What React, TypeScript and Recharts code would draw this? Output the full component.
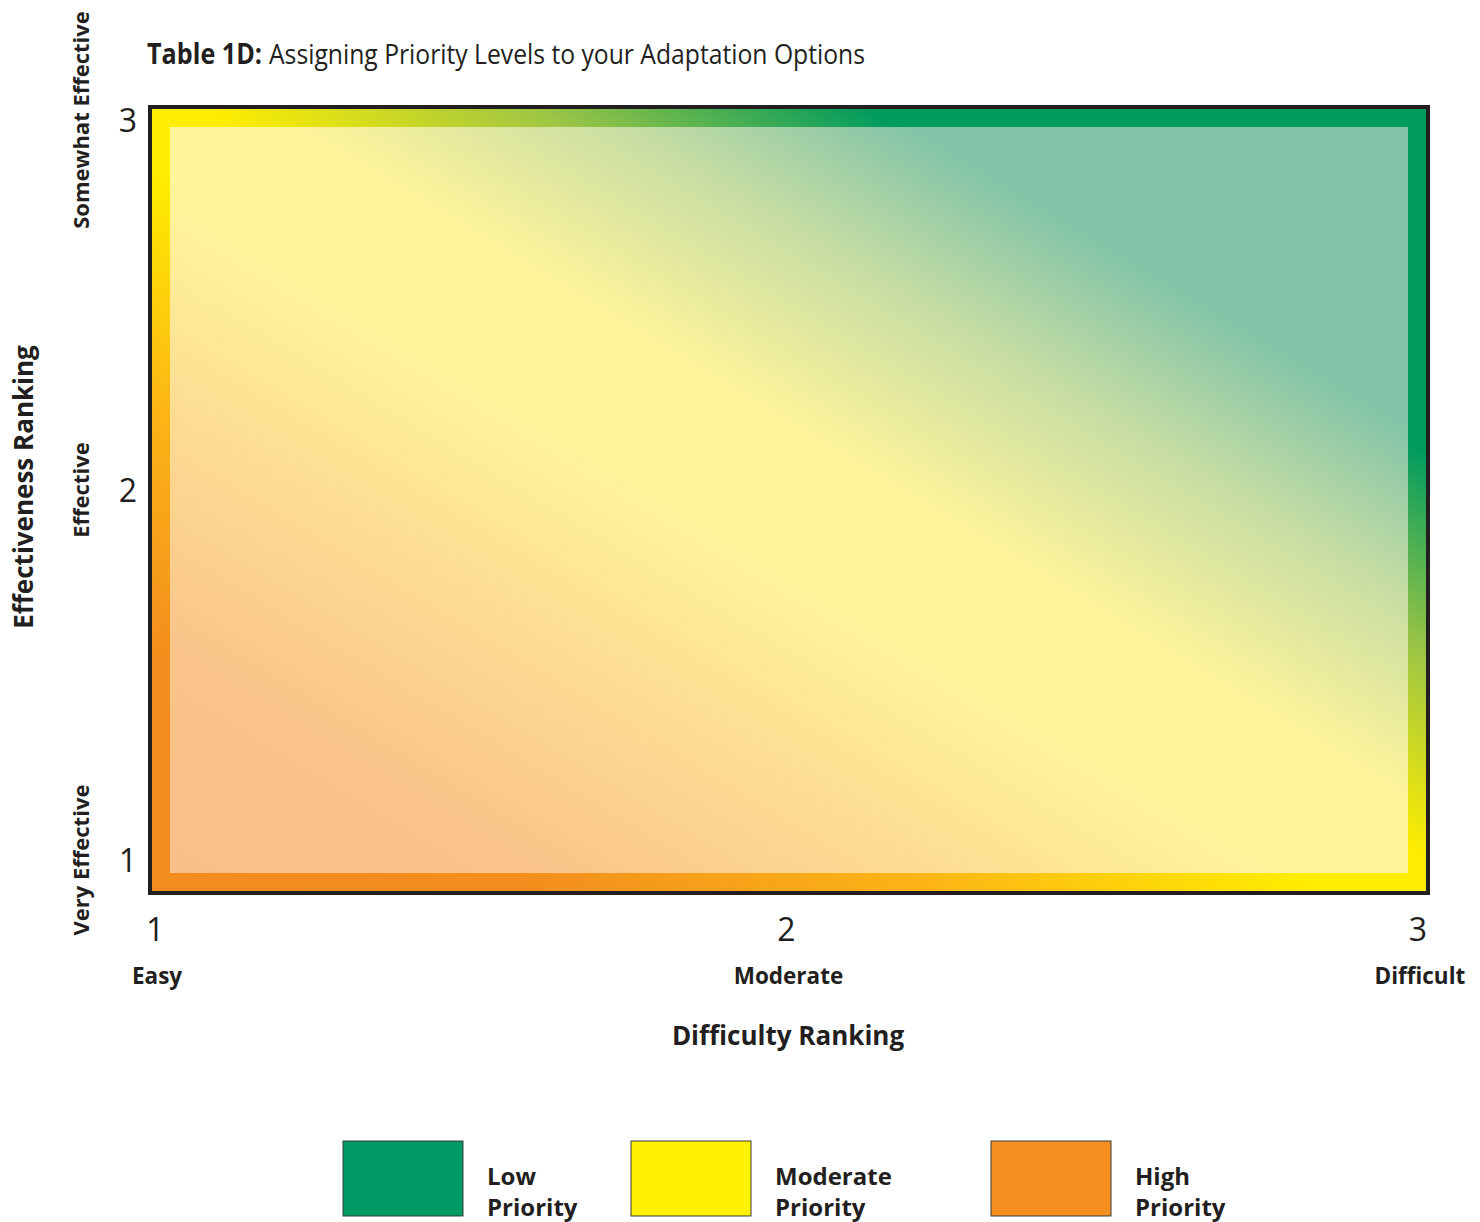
import React from 'react';
import { ComposedChart, XAxis, YAxis, ReferenceArea, Label } from 'recharts';

// axis categories
const difficultyLevels = [1, 2, 3];
const difficultyNames = ['Easy', 'Moderate', 'Difficult'];
const effectivenessLevels = [1, 2, 3];
const effectivenessNames = ['Very Effective', 'Effective', 'Somewhat Effective'];

// the printed frame runs a little past the 1..3 ticks
const difficultyDomain = [0.992, 3.016];
const effectivenessDomain = [0.911, 3.035];

// legend
const priorityNames = ['Low', 'Moderate', 'High'];
const priorityColors = ['#009B64', '#FFF100', '#F58F20'];
const legendLeft = [343, 631, 991];

const ink = '#231F20';
const font = "'Open Sans', sans-serif";

const rows = difficultyLevels.map((d, i) => ({ difficulty: d, effectiveness: effectivenessLevels[i] }));

function DifficultyTick(props: any) {
    const { x, y, payload } = props;
    const i = difficultyLevels.indexOf(payload.value);
    return (
        <g fontFamily={font} fill={ink}>
            <text x={x} y={y + 48} textAnchor="middle" fontSize={32}>{payload.value}</text>
            <text x={x + 2} y={y + 91} textAnchor="middle" fontSize={22.5} fontWeight={700}>{difficultyNames[i]}</text>
        </g>
    );
}

function EffectivenessTick(props: any) {
    const { x, y, payload } = props;
    const i = effectivenessLevels.indexOf(payload.value);
    const lx = x - 57;
    return (
        <g fontFamily={font} fill={ink}>
            <text x={x} y={y + 12} textAnchor="end" fontSize={32}>{payload.value}</text>
            <text
                x={lx}
                y={y}
                transform={`rotate(-90, ${lx}, ${y})`}
                textAnchor="middle"
                dominantBaseline="central"
                fontSize={22}
                fontWeight={700}
            >
                {effectivenessNames[i]}
            </text>
        </g>
    );
}

// frame: black outline, coloured ring, pale gradient inside
function PriorityFrame(props: any) {
    const { x, y, width, height } = props;
    const inset = 20;
    return (
        <g>
            <rect x={x} y={y} width={width} height={height} fill="url(#ringFill)" stroke={ink} strokeWidth={4} />
            <rect x={x + inset} y={y + inset} width={width - inset * 2} height={height - inset * 2} fill="url(#innerFill)" />
        </g>
    );
}

export default function App() {
    return (
        <div style={{ position: 'absolute', left: 0, top: 0, width: 1480, height: 1222, background: '#fff' }}>
            <ComposedChart
                width={1480}
                height={1222}
                data={rows}
                margin={{ top: 107, right: 52, bottom: 169, left: 0 }}
            >
                <XAxis
                    dataKey="difficulty"
                    type="number"
                    domain={difficultyDomain}
                    ticks={difficultyLevels}
                    tick={<DifficultyTick />}
                    tickLine={false}
                    axisLine={false}
                    tickSize={0}
                    tickMargin={0}
                    height={160}
                >
                    <Label
                        content={({ viewBox }: any) => (
                            <text
                                x={viewBox.x + viewBox.width / 2 - 1}
                                y={viewBox.y + 152}
                                textAnchor="middle"
                                fontFamily={font}
                                fontSize={26}
                                fontWeight={700}
                                fill={ink}
                            >
                                Difficulty Ranking
                            </text>
                        )}
                    />
                </XAxis>
                <YAxis
                    dataKey="effectiveness"
                    type="number"
                    domain={effectivenessDomain}
                    ticks={effectivenessLevels}
                    tick={<EffectivenessTick />}
                    tickLine={false}
                    axisLine={false}
                    tickSize={0}
                    tickMargin={13}
                    width={150}
                >
                    <Label
                        content={({ viewBox }: any) => {
                            const cx = 23;
                            const cy = viewBox.y + viewBox.height / 2 - 13;
                            return (
                                <text
                                    x={cx}
                                    y={cy}
                                    transform={`rotate(-90, ${cx}, ${cy})`}
                                    textAnchor="middle"
                                    dominantBaseline="central"
                                    fontFamily={font}
                                    fontSize={26}
                                    fontWeight={700}
                                    fill={ink}
                                >
                                    Effectiveness Ranking
                                </text>
                            );
                        }}
                    />
                </YAxis>
                <ReferenceArea
                    x1={difficultyDomain[0]}
                    x2={difficultyDomain[1]}
                    y1={effectivenessDomain[0]}
                    y2={effectivenessDomain[1]}
                    ifOverflow="visible"
                    shape={<PriorityFrame />}
                />
            </ComposedChart>

            {/* title, legend and gradient defs */}
            <svg
                width={1480}
                height={1222}
                style={{ position: 'absolute', left: 0, top: 0, pointerEvents: 'none' }}
            >
                <defs>
                    <linearGradient id="ringFill" x1="0" y1="1" x2="1" y2="0">
                        <stop offset="0%" stopColor="#F28C1E" />
                        <stop offset="15%" stopColor="#F38D1E" />
                        <stop offset="31%" stopColor="#FCB515" />
                        <stop offset="46%" stopColor="#FFED00" />
                        <stop offset="52%" stopColor="#FFED00" />
                        <stop offset="65%" stopColor="#9DC545" />
                        <stop offset="78%" stopColor="#009B5F" />
                        <stop offset="100%" stopColor="#009B5F" />
                    </linearGradient>
                    <linearGradient id="innerFill" x1="0" y1="1" x2="1" y2="0">
                        <stop offset="0%" stopColor="#F9BF89" />
                        <stop offset="15%" stopColor="#FAC48A" />
                        <stop offset="30%" stopColor="#FDDB92" />
                        <stop offset="45%" stopColor="#FEF49A" />
                        <stop offset="55%" stopColor="#FEF49A" />
                        <stop offset="68%" stopColor="#C9DEA3" />
                        <stop offset="80%" stopColor="#82C4A8" />
                        <stop offset="100%" stopColor="#82C4A8" />
                    </linearGradient>
                </defs>
                <g fontFamily={font} fill={ink}>
                    <text x={147} y={64} fontSize={28} fontWeight={700} textLength={115} lengthAdjust="spacingAndGlyphs">
                        Table 1D:
                    </text>
                    <text x={269} y={64} fontSize={28} textLength={596} lengthAdjust="spacingAndGlyphs">
                        Assigning Priority Levels to your Adaptation Options
                    </text>
                </g>
                {priorityNames.map((name, i) => (
                    <g key={name} fontFamily={font} fill={ink} fontWeight={700} fontSize={24}>
                        <rect
                            x={legendLeft[i]}
                            y={1141}
                            width={120}
                            height={75}
                            fill={priorityColors[i]}
                            stroke="#3a3a3a"
                            strokeWidth={1}
                        />
                        <text x={legendLeft[i] + 144} y={1185}>{name}</text>
                        <text x={legendLeft[i] + 144} y={1216}>Priority</text>
                    </g>
                ))}
            </svg>
        </div>
    );
}
